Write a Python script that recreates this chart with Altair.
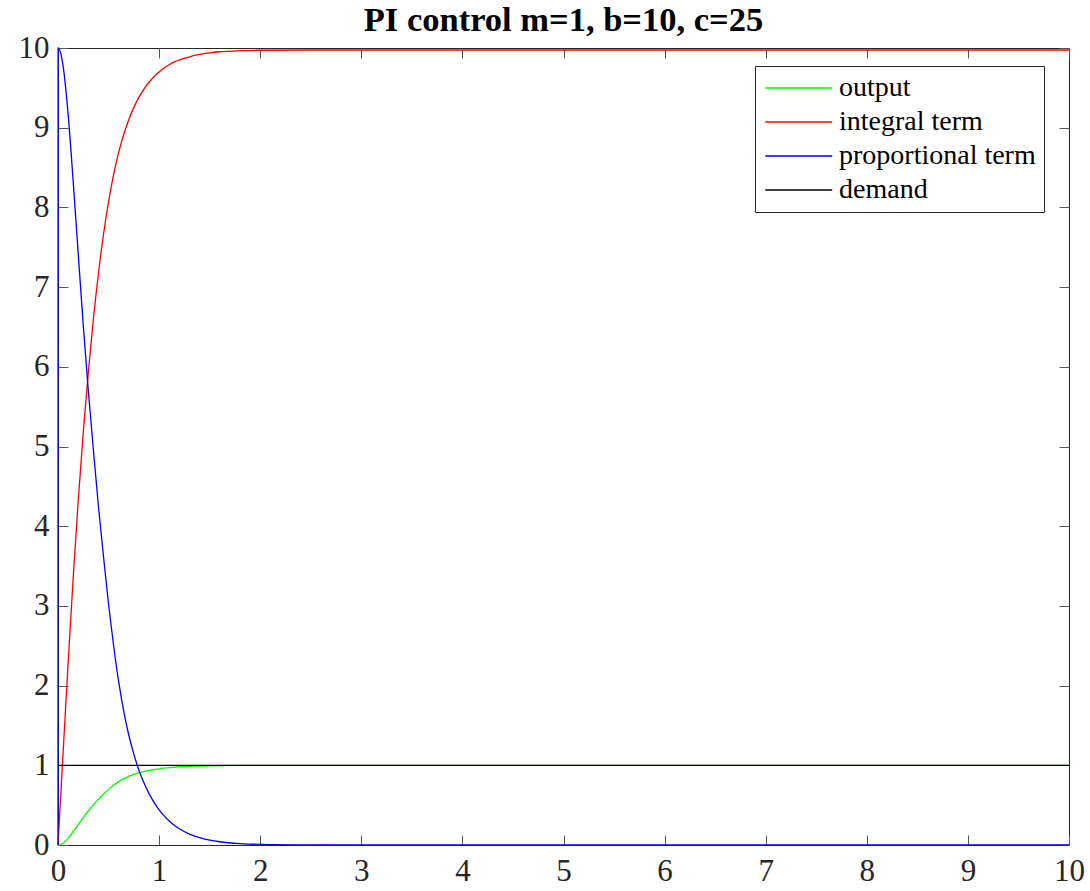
import altair as alt
import pandas as pd

# Simulation samples (time in seconds)
t_output = [0, 0.05, 0.1, 0.15, 0.2, 0.25, 0.3, 0.35, 0.4, 0.45, 0.5, 0.55, 0.6, 0.65,
            0.7, 0.75, 0.8, 0.85, 0.9, 0.95, 1.0, 1.05, 1.1, 1.15, 1.2, 1.3, 1.4, 1.5,
            1.6, 1.8, 2.0, 2.5, 10.0]
output = [0, 0.022, 0.083, 0.167, 0.258, 0.348, 0.43, 0.504, 0.575, 0.638, 0.698, 0.75,
          0.795, 0.832, 0.862, 0.886, 0.906, 0.922, 0.9355, 0.9465, 0.956, 0.9635, 0.97,
          0.975, 0.98, 0.986, 0.991, 0.994, 0.996, 0.998, 0.999, 1.0, 1.0]

t_integral = [0, 0.05, 0.1, 0.15, 0.2, 0.25, 0.3, 0.35, 0.4, 0.45, 0.5, 0.55, 0.6, 0.65,
              0.7, 0.75, 0.8, 0.85, 0.9, 0.95, 1.0, 1.05, 1.1, 1.15, 1.2, 1.3, 1.4, 1.5,
              1.6, 1.8, 2.0, 2.5, 10.0]
integral = [0, 1.15, 2.28, 3.35, 4.32, 5.18, 5.93, 6.6, 7.17, 7.66, 8.07, 8.41, 8.69,
            8.915, 9.1, 9.255, 9.38, 9.485, 9.57, 9.64, 9.7, 9.75, 9.79, 9.825, 9.85,
            9.89, 9.92, 9.94, 9.953, 9.966, 9.972, 9.975, 9.975]

t_proportional = [0, 0.001, 0.05, 0.1, 0.15, 0.2, 0.25, 0.3, 0.35, 0.4, 0.45, 0.5, 0.55,
                  0.6, 0.65, 0.7, 0.75, 0.8, 0.85, 0.9, 0.95, 1.0, 1.05, 1.1, 1.15, 1.2,
                  1.3, 1.4, 1.5, 1.6, 1.8, 2.0, 2.5, 3.0, 10.0]
proportional = [0, 10.0, 9.78, 9.17, 8.33, 7.42, 6.52, 5.70, 4.96, 4.25, 3.62, 3.02, 2.5,
                2.05, 1.68, 1.38, 1.14, 0.94, 0.78, 0.645, 0.535, 0.44, 0.365, 0.30, 0.247,
                0.203, 0.137, 0.092, 0.062, 0.041, 0.018, 0.008, 0.001, 0.0, 0.0]

t_demand = [0, 10.0]
demand = [1.0, 1.0]

series_names = ["output", "integral term", "proportional term", "demand"]
series_colors = ["#00ff00", "#ff0000", "#0000ff", "#000000"]
axis_ticks = list(range(11))

rows = []
for name, ts, vs in [("output", t_output, output),
                     ("integral term", t_integral, integral),
                     ("proportional term", t_proportional, proportional),
                     ("demand", t_demand, demand)]:
    for t, v in zip(ts, vs):
        rows.append({"series": name, "t": t, "value": v})
df = pd.DataFrame(rows)

font = "Liberation Serif"
ink = "#262626"
tick_ink = "#555555"

x_scale = alt.Scale(domain=[0, 10], nice=False, zero=False)
y_scale = alt.Scale(domain=[0, 10], nice=False, zero=False)


def inward_axis(orient, labels, pad=9):
    # ticks point into the plot: shift the axis inward by its tick length
    kw = dict(orient=orient, values=axis_ticks, title=None, offset=-10, tickSize=10,
              domain=False, grid=False, tickColor=tick_ink, tickWidth=1,
              labels=labels)
    if labels:
        kw.update(labelFont=font, labelFontSize=31, labelColor=ink, labelPadding=pad,
                  labelFlush=False)
    return alt.Axis(**kw)


lines = alt.Chart(df).mark_line(strokeWidth=1.3, interpolate="monotone").encode(
    x=alt.X("t:Q", scale=x_scale, axis=inward_axis("bottom", True, pad=11)),
    y=alt.Y("value:Q", scale=y_scale, axis=inward_axis("left", True)),
    color=alt.Color(
        "series:N",
        scale=alt.Scale(domain=series_names, range=series_colors),
        legend=alt.Legend(
            title=None, orient="none", legendX=697, legendY=18,
            symbolType="M-1.4,0H6.6", symbolSize=280, symbolStrokeWidth=1.5,
            labelFont=font, labelFontSize=28, labelColor="black", labelOffset=48,
            labelLimit=400, strokeColor=ink, fillColor="white", padding=8,
            rowPadding=6, cornerRadius=0,
        ),
    ),
)

# mirrored tick marks on the top and right edges
mirror = alt.Chart(pd.DataFrame({"t": t_demand, "value": demand})).mark_point(opacity=0).encode(
    x=alt.X("t:Q", scale=x_scale, axis=inward_axis("top", False)),
    y=alt.Y("value:Q", scale=y_scale, axis=inward_axis("right", False)),
)

chart = alt.layer(lines, mirror).resolve_axis(x="independent", y="independent").properties(
    width=1011,
    height=797,
    title=alt.TitleParams("PI control m=1, b=10, c=25", font=font, fontSize=34.5,
                          fontWeight="bold", color="black", offset=-6),
    padding={"left": 18, "top": 2, "right": 0, "bottom": 0},
).configure_view(stroke=ink, strokeWidth=1)

chart.save("out.html", embed_options={"renderer": "svg", "actions": False})
